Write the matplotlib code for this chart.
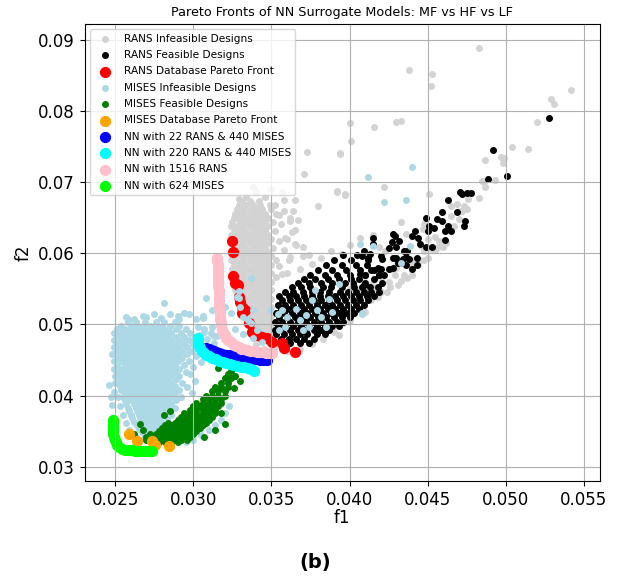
import matplotlib
matplotlib.use("Agg")
import matplotlib.pyplot as plt

# ---- values ----

# RANS infeasible designs: dense vertical blob (f2, [f1 ...]) and scattered points
rans_infeasible_rows = [
    (0.0674, [0.0331, 0.0336, 0.0342]),
    (0.0668, [0.0329, 0.0334, 0.0338, 0.0343, 0.0349]),
    (0.0662, [0.0328, 0.0332, 0.0336, 0.0340, 0.0344, 0.0350]),
    (0.0656, [0.0327, 0.0330, 0.0334, 0.0338, 0.0342, 0.0346, 0.0353]),
    (0.0650, [0.0326, 0.0328, 0.0332, 0.0336, 0.0340, 0.0344, 0.0348]),
    (0.0644, [0.0325, 0.0330, 0.0334, 0.0338, 0.0342, 0.0346, 0.0351]),
    (0.0638, [0.0324, 0.0328, 0.0332, 0.0336, 0.0340, 0.0344, 0.0348]),
    (0.0632, [0.0326, 0.0330, 0.0334, 0.0338, 0.0342, 0.0346, 0.0352]),
    (0.0626, [0.0324, 0.0328, 0.0332, 0.0336, 0.0340, 0.0344, 0.0348]),
    (0.0620, [0.0326, 0.0330, 0.0334, 0.0338, 0.0342, 0.0346, 0.0350]),
    (0.0614, [0.0324, 0.0328, 0.0332, 0.0336, 0.0340, 0.0344, 0.0348]),
    (0.0608, [0.0326, 0.0330, 0.0334, 0.0338, 0.0342, 0.0346, 0.0351]),
    (0.0602, [0.0324, 0.0328, 0.0332, 0.0336, 0.0340, 0.0344, 0.0348]),
    (0.0596, [0.0326, 0.0330, 0.0334, 0.0338, 0.0342, 0.0346, 0.0350]),
    (0.0590, [0.0324, 0.0328, 0.0332, 0.0336, 0.0340, 0.0344, 0.0348, 0.0353]),
    (0.0584, [0.0326, 0.0330, 0.0334, 0.0338, 0.0342, 0.0346, 0.0350]),
    (0.0578, [0.0325, 0.0328, 0.0332, 0.0336, 0.0340, 0.0344, 0.0348]),
    (0.0572, [0.0326, 0.0330, 0.0334, 0.0338, 0.0342, 0.0346, 0.0350]),
    (0.0566, [0.0325, 0.0328, 0.0332, 0.0336, 0.0340, 0.0344, 0.0348]),
    (0.0560, [0.0326, 0.0330, 0.0334, 0.0338, 0.0342, 0.0346, 0.0350]),
    (0.0554, [0.0326, 0.0329, 0.0332, 0.0336, 0.0340, 0.0344, 0.0348]),
    (0.0548, [0.0327, 0.0330, 0.0334, 0.0338, 0.0342, 0.0346, 0.0350]),
    (0.0542, [0.0328, 0.0332, 0.0336, 0.0340, 0.0344, 0.0348]),
    (0.0536, [0.0329, 0.0334, 0.0338, 0.0342, 0.0346, 0.0350]),
    (0.0530, [0.0330, 0.0333, 0.0336, 0.0340, 0.0344, 0.0348]),
    (0.0524, [0.0331, 0.0335, 0.0338, 0.0342, 0.0346, 0.0350]),
    (0.0518, [0.0332, 0.0336, 0.0340, 0.0344, 0.0348]),
    (0.0512, [0.0334, 0.0338, 0.0342, 0.0346, 0.0350]),
    (0.0506, [0.0336, 0.0340, 0.0344, 0.0348]),
    (0.0500, [0.0338, 0.0342, 0.0346, 0.0350]),
    (0.0494, [0.0340, 0.0344, 0.0348, 0.0352]),
    (0.0488, [0.0342, 0.0346, 0.0350]),
    (0.0482, [0.0345, 0.0349, 0.0353]),
    (0.0476, [0.0348, 0.0352]),
]
rans_infeasible_pts = [
    (0.0483, 0.0889), (0.0438, 0.0858), (0.0453, 0.0852), (0.0452, 0.0836), (0.0542, 0.0830),
    (0.0529, 0.0817), (0.0531, 0.0810), (0.0520, 0.0785), (0.0400, 0.0783), (0.0401, 0.0758),
    (0.0394, 0.0740), (0.0416, 0.0778), (0.0430, 0.0785), (0.0433, 0.0786), (0.0504, 0.0750),
    (0.0514, 0.0747), (0.0487, 0.0732), (0.0497, 0.0736), (0.0499, 0.0734), (0.0498, 0.0727),
    (0.0486, 0.0701), (0.0493, 0.0703), (0.0422, 0.0693), (0.0392, 0.0686), (0.0397, 0.0682),
    (0.0451, 0.0683), (0.0483, 0.0678), (0.0485, 0.0702), (0.0487, 0.0693), (0.0476, 0.0677),
    (0.0473, 0.0667), (0.0475, 0.0662), (0.0472, 0.0660), (0.0470, 0.0648), (0.0467, 0.0638),
    (0.0465, 0.0667), (0.0469, 0.0669), (0.0448, 0.0642), (0.0447, 0.0634), (0.0450, 0.0620),
    (0.0455, 0.0623), (0.0457, 0.0618), (0.0460, 0.0609), (0.0456, 0.0608), (0.0452, 0.0606),
    (0.0433, 0.0644), (0.0436, 0.0627), (0.0446, 0.0611), (0.0448, 0.0604), (0.0450, 0.0594),
    (0.0448, 0.0590), (0.0444, 0.0583), (0.0439, 0.0585), (0.0430, 0.0583), (0.0427, 0.0578),
    (0.0429, 0.0569), (0.0420, 0.0566), (0.0416, 0.0562), (0.0414, 0.0556), (0.0417, 0.0552),
    (0.0412, 0.0550), (0.0407, 0.0550), (0.0409, 0.0543), (0.0411, 0.0540), (0.0416, 0.0543),
    (0.0419, 0.0550), (0.0429, 0.0594), (0.0423, 0.0604), (0.0419, 0.0609), (0.0415, 0.0626),
    (0.0471, 0.0660), (0.0465, 0.0653), (0.0458, 0.0610),
    (0.0373, 0.0742), (0.0394, 0.0741), (0.0371, 0.0712), (0.0392, 0.0688), (0.0397, 0.0684),
    (0.0380, 0.0666), (0.0367, 0.0647), (0.0358, 0.0675), (0.0364, 0.0660), (0.0355, 0.0654),
    (0.0362, 0.0645), (0.0365, 0.0633), (0.0359, 0.0621), (0.0374, 0.0598), (0.0370, 0.0609),
    (0.0357, 0.0687), (0.0365, 0.0675), (0.0334, 0.0680), (0.0340, 0.0686), (0.0346, 0.0679),
    (0.0329, 0.0676), (0.0350, 0.0690), (0.0338, 0.0693), (0.0352, 0.0668), (0.0358, 0.0660),
    (0.0362, 0.0650), (0.0356, 0.0641), (0.0363, 0.0630), (0.0360, 0.0620), (0.0366, 0.0612),
    (0.0358, 0.0605), (0.0362, 0.0595), (0.0355, 0.0582), (0.0360, 0.0572), (0.0353, 0.0567),
    (0.0355, 0.0618), (0.0365, 0.0613), (0.0370, 0.0597), (0.0382, 0.0594), (0.0395, 0.0599),
    (0.0361, 0.0590), (0.0376, 0.0585), (0.0357, 0.0571), (0.0368, 0.0578), (0.0388, 0.0604),
    (0.0400, 0.0612), (0.0407, 0.0622),
    (0.0360, 0.0462), (0.0368, 0.0466), (0.0376, 0.0472), (0.0383, 0.0480), (0.0390, 0.0490),
    (0.0396, 0.0502), (0.0402, 0.0514), (0.0408, 0.0524), (0.0414, 0.0534), (0.0420, 0.0545),
    (0.0426, 0.0552), (0.0433, 0.0561), (0.0440, 0.0569), (0.0393, 0.0485), (0.0400, 0.0505),
    (0.0410, 0.0518), (0.0418, 0.0538), (0.0424, 0.0546), (0.0431, 0.0555), (0.0437, 0.0565),
    (0.0370, 0.0520), (0.0380, 0.0530), (0.0390, 0.0540), (0.0400, 0.0550), (0.0410, 0.0560),
    (0.0420, 0.0570), (0.0430, 0.0580), (0.0440, 0.0590), (0.0365, 0.0500), (0.0375, 0.0510),
    (0.0385, 0.0500), (0.0395, 0.0520), (0.0405, 0.0535), (0.0415, 0.0545), (0.0425, 0.0560),
    (0.0435, 0.0570), (0.0445, 0.0590), (0.0455, 0.0605), (0.0462, 0.0615), (0.0345, 0.0465),
    (0.0352, 0.0468), (0.0340, 0.0472),
]

# RANS feasible designs: dense band and scattered points
rans_feasible_rows = [
    (0.0474, [0.0362, 0.0368, 0.0374]),
    (0.0480, [0.0356, 0.0361, 0.0366, 0.0371, 0.0377]),
    (0.0486, [0.0353, 0.0358, 0.0363, 0.0368, 0.0373, 0.0379, 0.0384]),
    (0.0492, [0.0352, 0.0357, 0.0362, 0.0367, 0.0372, 0.0377, 0.0382, 0.0387]),
    (0.0498, [0.0354, 0.0359, 0.0364, 0.0369, 0.0374, 0.0379, 0.0384, 0.0389, 0.0393]),
    (0.0504, [0.0352, 0.0357, 0.0362, 0.0367, 0.0372, 0.0377, 0.0382, 0.0387, 0.0392, 0.0396]),
    (0.0510, [0.0355, 0.0360, 0.0365, 0.0370, 0.0375, 0.0380, 0.0385, 0.0390, 0.0395, 0.0400]),
    (0.0516, [0.0353, 0.0358, 0.0363, 0.0368, 0.0373, 0.0378, 0.0383, 0.0388, 0.0393, 0.0398, 0.0403]),
    (0.0522, [0.0356, 0.0361, 0.0366, 0.0371, 0.0376, 0.0381, 0.0386, 0.0391, 0.0396, 0.0401, 0.0406]),
    (0.0528, [0.0354, 0.0359, 0.0364, 0.0369, 0.0374, 0.0379, 0.0384, 0.0389, 0.0394, 0.0399, 0.0404, 0.0409]),
    (0.0534, [0.0357, 0.0362, 0.0367, 0.0372, 0.0377, 0.0382, 0.0387, 0.0392, 0.0397, 0.0402, 0.0407, 0.0412]),
    (0.0540, [0.0355, 0.0361, 0.0366, 0.0371, 0.0376, 0.0381, 0.0386, 0.0391, 0.0396, 0.0401, 0.0406, 0.0411, 0.0416]),
    (0.0546, [0.0359, 0.0364, 0.0370, 0.0376, 0.0381, 0.0387, 0.0394, 0.0399, 0.0404, 0.0409, 0.0414, 0.0419]),
    (0.0552, [0.0363, 0.0369, 0.0375, 0.0383, 0.0388, 0.0395, 0.0403, 0.0408, 0.0413, 0.0418]),
    (0.0558, [0.0367, 0.0374, 0.0382, 0.0389, 0.0397, 0.0402, 0.0410, 0.0421]),
    (0.0564, [0.0371, 0.0378, 0.0386, 0.0393, 0.0401, 0.0406, 0.0416]),
    (0.0570, [0.0375, 0.0384, 0.0392, 0.0400, 0.0410, 0.0419]),
    (0.0577, [0.0380, 0.0389, 0.0398, 0.0407, 0.0414]),
    (0.0584, [0.0385, 0.0395, 0.0404, 0.0411]),
    (0.0591, [0.0390, 0.0401, 0.0412]),
    (0.0598, [0.0396, 0.0405]),
]
rans_feasible_pts = [
    (0.0492, 0.0746), (0.0501, 0.0709), (0.0489, 0.0705), (0.0528, 0.0790),
    (0.0471, 0.0686), (0.0472, 0.0684), (0.0475, 0.0685), (0.0478, 0.0685),
    (0.0463, 0.0675), (0.0459, 0.0658), (0.0469, 0.0658), (0.0456, 0.0648), (0.0459, 0.0645),
    (0.0449, 0.0650), (0.0451, 0.0639), (0.0454, 0.0636), (0.0463, 0.0639), (0.0465, 0.0631),
    (0.0474, 0.0645), (0.0473, 0.0639), (0.0461, 0.0631), (0.0461, 0.0619), (0.0450, 0.0632),
    (0.0442, 0.0632), (0.0440, 0.0624), (0.0444, 0.0622), (0.0449, 0.0609), (0.0453, 0.0609),
    (0.0445, 0.0613), (0.0428, 0.0627), (0.0427, 0.0616), (0.0430, 0.0609), (0.0432, 0.0618),
    (0.0415, 0.0621), (0.0415, 0.0613), (0.0437, 0.0604), (0.0436, 0.0595), (0.0438, 0.0592),
    (0.0434, 0.0592), (0.0430, 0.0594), (0.0428, 0.0594), (0.0431, 0.0587), (0.0443, 0.0594),
    (0.0443, 0.0583), (0.0440, 0.0578), (0.0436, 0.0583), (0.0420, 0.0597), (0.0421, 0.0592),
    (0.0413, 0.0599), (0.0409, 0.0603), (0.0412, 0.0594), (0.0428, 0.0580), (0.0425, 0.0578),
    (0.0420, 0.0578), (0.0416, 0.0577), (0.0419, 0.0570), (0.0422, 0.0570), (0.0407, 0.0571),
    (0.0410, 0.0569), (0.0409, 0.0556), (0.0433, 0.0587), (0.0429, 0.0625), (0.0425, 0.0608),
    (0.0435, 0.0604), (0.0408, 0.0597), (0.0418, 0.0580),
]

# RANS database Pareto front
rans_pareto_f1 = [0.03245, 0.03253, 0.03255, 0.03270, 0.03287, 0.03291, 0.03302, 0.03313,
                  0.03330, 0.03313, 0.03355, 0.03377, 0.03409, 0.03440, 0.03472, 0.03504,
                  0.03568, 0.03579, 0.03649]
rans_pareto_f2 = [0.06178, 0.06023, 0.05681, 0.05577, 0.05554, 0.05390, 0.05319, 0.05249,
                  0.05202, 0.05155, 0.05014, 0.04897, 0.04850, 0.04826, 0.04803, 0.04756,
                  0.04732, 0.04662, 0.04615]

# MISES infeasible designs: dense blob and scattered points
mises_infeasible_rows = [
    (0.0503, [0.0258, 0.0263, 0.0269, 0.0276, 0.0281, 0.0288]),
    (0.0498, [0.0254, 0.0260, 0.0264, 0.0268, 0.0272, 0.0276, 0.0280, 0.0285, 0.0291]),
    (0.0493, [0.0251, 0.0256, 0.0260, 0.0264, 0.0268, 0.0272, 0.0276, 0.0280, 0.0284, 0.0289, 0.0295]),
    (0.0488, [0.0249, 0.0254, 0.0258, 0.0262, 0.0266, 0.0270, 0.0274, 0.0278, 0.0282, 0.0286, 0.0292, 0.0298]),
    (0.0483, [0.0251, 0.0256, 0.0260, 0.0264, 0.0268, 0.0272, 0.0276, 0.0280, 0.0284, 0.0289, 0.0294, 0.0301]),
    (0.0478, [0.0249, 0.0254, 0.0258, 0.0262, 0.0266, 0.0270, 0.0274, 0.0278, 0.0282, 0.0286, 0.0291, 0.0297]),
    (0.0473, [0.0251, 0.0256, 0.0260, 0.0264, 0.0268, 0.0272, 0.0276, 0.0280, 0.0284, 0.0288, 0.0294, 0.0300]),
    (0.0468, [0.0249, 0.0254, 0.0258, 0.0262, 0.0266, 0.0270, 0.0274, 0.0278, 0.0282, 0.0286, 0.0291, 0.0296]),
    (0.0463, [0.0251, 0.0256, 0.0260, 0.0264, 0.0268, 0.0272, 0.0276, 0.0280, 0.0284, 0.0288, 0.0293, 0.0299]),
    (0.0458, [0.0248, 0.0254, 0.0258, 0.0262, 0.0266, 0.0270, 0.0274, 0.0278, 0.0282, 0.0286, 0.0290, 0.0296]),
    (0.0453, [0.0251, 0.0256, 0.0260, 0.0264, 0.0268, 0.0272, 0.0276, 0.0280, 0.0284, 0.0288, 0.0293]),
    (0.0448, [0.0249, 0.0254, 0.0258, 0.0262, 0.0266, 0.0270, 0.0274, 0.0278, 0.0282, 0.0286, 0.0290, 0.0297]),
    (0.0443, [0.0251, 0.0256, 0.0260, 0.0264, 0.0268, 0.0272, 0.0276, 0.0280, 0.0284, 0.0288, 0.0294]),
    (0.0438, [0.0249, 0.0254, 0.0258, 0.0262, 0.0266, 0.0270, 0.0274, 0.0278, 0.0282, 0.0286, 0.0291]),
    (0.0433, [0.0251, 0.0256, 0.0260, 0.0264, 0.0268, 0.0272, 0.0276, 0.0280, 0.0284, 0.0288, 0.0295]),
    (0.0428, [0.0250, 0.0254, 0.0258, 0.0262, 0.0266, 0.0270, 0.0274, 0.0278, 0.0282, 0.0286, 0.0291]),
    (0.0423, [0.0252, 0.0256, 0.0260, 0.0264, 0.0268, 0.0272, 0.0276, 0.0280, 0.0284, 0.0289]),
    (0.0418, [0.0250, 0.0254, 0.0258, 0.0262, 0.0266, 0.0270, 0.0274, 0.0278, 0.0282, 0.0286, 0.0293]),
    (0.0413, [0.0253, 0.0256, 0.0260, 0.0264, 0.0268, 0.0272, 0.0276, 0.0280, 0.0284, 0.0288]),
    (0.0408, [0.0254, 0.0258, 0.0262, 0.0266, 0.0270, 0.0274, 0.0278, 0.0282, 0.0286, 0.0291]),
    (0.0403, [0.0256, 0.0260, 0.0264, 0.0268, 0.0272, 0.0276, 0.0280, 0.0284, 0.0288]),
    (0.0398, [0.0255, 0.0258, 0.0262, 0.0266, 0.0270, 0.0274, 0.0278, 0.0282, 0.0286, 0.0292]),
    (0.0393, [0.0256, 0.0260, 0.0264, 0.0268, 0.0272, 0.0276, 0.0280, 0.0284, 0.0289]),
    (0.0388, [0.0257, 0.0262, 0.0266, 0.0270, 0.0274, 0.0278, 0.0282, 0.0286]),
    (0.0383, [0.0258, 0.0263, 0.0267, 0.0271, 0.0275, 0.0279, 0.0283, 0.0288]),
    (0.0378, [0.0259, 0.0264, 0.0268, 0.0272, 0.0276, 0.0280, 0.0285]),
    (0.0373, [0.0260, 0.0265, 0.0269, 0.0273, 0.0277, 0.0281, 0.0286]),
    (0.0368, [0.0261, 0.0266, 0.0270, 0.0274, 0.0278, 0.0283]),
    (0.0363, [0.0262, 0.0267, 0.0271, 0.0275, 0.0279]),
    (0.0358, [0.0264, 0.0268, 0.0272, 0.0276, 0.0281]),
    (0.0353, [0.0265, 0.0270, 0.0274, 0.0278]),
    (0.0348, [0.0267, 0.0272, 0.0277]),
    (0.0343, [0.0269, 0.0275]),
]
mises_infeasible_pts = [
    (0.0281, 0.0530), (0.0258, 0.0507), (0.0270, 0.0510), (0.0275, 0.0514), (0.0290, 0.0512),
    (0.0294, 0.0516), (0.0297, 0.0514), (0.0302, 0.0507), (0.0306, 0.0509), (0.0262, 0.0508),
    (0.0268, 0.0512), (0.0279, 0.0509), (0.0285, 0.0515), (0.0291, 0.0508), (0.0257, 0.0510),
    (0.0303, 0.0497), (0.0307, 0.0493), (0.0311, 0.0488), (0.0315, 0.0484), (0.0304, 0.0485),
    (0.0309, 0.0479), (0.0313, 0.0474), (0.0302, 0.0476), (0.0306, 0.0469), (0.0310, 0.0463),
    (0.0302, 0.0455), (0.0305, 0.0447), (0.0300, 0.0440), (0.0298, 0.0430), (0.0301, 0.0420),
    (0.0296, 0.0412), (0.0299, 0.0404), (0.0246, 0.0415), (0.0248, 0.0386), (0.0247, 0.0398),
    (0.0249, 0.0405), (0.0252, 0.0398), (0.0253, 0.0385), (0.0255, 0.0372), (0.0257, 0.0362),
    (0.0259, 0.0352), (0.0263, 0.0342), (0.0266, 0.0338), (0.0280, 0.0337), (0.0286, 0.0334),
    (0.0305, 0.0345), (0.0310, 0.0352), (0.0314, 0.0358), (0.0318, 0.0366), (0.0320, 0.0375),
    (0.0323, 0.0385), (0.0300, 0.0338), (0.0295, 0.0335),
    (0.0308, 0.0537), (0.0320, 0.0525), (0.0324, 0.0516), (0.0329, 0.0537), (0.0332, 0.0511),
    (0.0337, 0.0502), (0.0341, 0.0492), (0.0335, 0.0506), (0.0316, 0.0506), (0.0312, 0.0497),
    (0.0307, 0.0490), (0.0313, 0.0484), (0.0320, 0.0488), (0.0327, 0.0494), (0.0338, 0.0481),
    (0.0344, 0.0476), (0.0306, 0.0512), (0.0312, 0.0520), (0.0317, 0.0498), (0.0332, 0.0487),
    (0.0329, 0.0547), (0.0337, 0.0565), (0.0338, 0.0520), (0.0328, 0.0539), (0.0330, 0.0524),
    (0.0354, 0.0515), (0.0357, 0.0520), (0.0360, 0.0510), (0.0366, 0.0522), (0.0368, 0.0506),
    (0.0372, 0.0513), (0.0376, 0.0534), (0.0379, 0.0520), (0.0382, 0.0510), (0.0387, 0.0536),
    (0.0389, 0.0517), (0.0374, 0.0496), (0.0359, 0.0496), (0.0355, 0.0492), (0.0385, 0.0496),
    (0.0370, 0.0492), (0.0408, 0.0515), (0.0407, 0.0613), (0.0415, 0.0611), (0.0378, 0.0548),
    (0.0393, 0.0557), (0.0349, 0.0520), (0.0412, 0.0708), (0.0440, 0.0722), (0.0422, 0.0672),
    (0.0436, 0.0675), (0.0439, 0.0611), (0.0433, 0.0587), (0.0408, 0.0516),
]

# MISES feasible designs
mises_feasible_rows = [
    (0.0334, [0.0274, 0.0278, 0.0282, 0.0286, 0.0290]),
    (0.0338, [0.0270, 0.0272, 0.0276, 0.0280, 0.0284, 0.0288, 0.0292, 0.0296]),
    (0.0342, [0.0270, 0.0274, 0.0278, 0.0282, 0.0286, 0.0290, 0.0294, 0.0298]),
    (0.0346, [0.0272, 0.0276, 0.0280, 0.0284, 0.0288, 0.0292, 0.0296, 0.0300]),
    (0.0350, [0.0278, 0.0282, 0.0286, 0.0290, 0.0294, 0.0298, 0.0302]),
    (0.0354, [0.0280, 0.0284, 0.0288, 0.0292, 0.0296, 0.0300, 0.0304]),
    (0.0358, [0.0282, 0.0286, 0.0290, 0.0294, 0.0298, 0.0302, 0.0306]),
    (0.0362, [0.0284, 0.0288, 0.0292, 0.0296, 0.0300, 0.0304, 0.0308]),
    (0.0366, [0.0290, 0.0294, 0.0298, 0.0302, 0.0306, 0.0310]),
    (0.0370, [0.0292, 0.0296, 0.0300, 0.0304, 0.0308, 0.0312]),
    (0.0375, [0.0294, 0.0298, 0.0302, 0.0306, 0.0310, 0.0314]),
    (0.0380, [0.0298, 0.0302, 0.0306, 0.0310, 0.0314]),
    (0.0385, [0.0300, 0.0304, 0.0308, 0.0312, 0.0316]),
    (0.0390, [0.0302, 0.0306, 0.0310, 0.0314, 0.0318]),
    (0.0395, [0.0306, 0.0310, 0.0314, 0.0318]),
    (0.0400, [0.0308, 0.0312, 0.0316, 0.0320]),
    (0.0406, [0.0312, 0.0316, 0.0320]),
    (0.0412, [0.0314, 0.0318, 0.0322]),
    (0.0418, [0.0318, 0.0322]),
    (0.0424, [0.0320, 0.0324]),
    (0.0430, [0.0322]),
]
mises_feasible_pts = [
    (0.0268, 0.0352), (0.0266, 0.0360), (0.0281, 0.0372), (0.0285, 0.0378), (0.0316, 0.0439),
    (0.0330, 0.0421), (0.0327, 0.0428), (0.0324, 0.0435), (0.0320, 0.0360), (0.0314, 0.0352),
    (0.0307, 0.0342), (0.0262, 0.0346), (0.0319, 0.0445), (0.0326, 0.0410), (0.0318, 0.0376),
]

# MISES database Pareto front
mises_pareto_f1 = [0.02589, 0.02637, 0.02736, 0.02757, 0.02842]
mises_pareto_f2 = [0.03465, 0.03363, 0.03363, 0.03302, 0.03288]

# NN predicted fronts
nn_22_440_f1 = [0.03078, 0.03088, 0.03100, 0.03114, 0.03130, 0.03148, 0.03166, 0.03186, 0.03206,
                0.03226, 0.03248, 0.03270, 0.03292, 0.03314, 0.03336, 0.03358, 0.03380, 0.03402,
                0.03424, 0.03446, 0.03470]
nn_22_440_f2 = [0.04672, 0.04660, 0.04648, 0.04635, 0.04622, 0.04610, 0.04598, 0.04586, 0.04575,
                0.04564, 0.04554, 0.04545, 0.04537, 0.04530, 0.04524, 0.04518, 0.04513, 0.04509,
                0.04505, 0.04502, 0.04500]

nn_220_440_f1 = [0.03030, 0.03031, 0.03033, 0.03037, 0.03044, 0.03054, 0.03068, 0.03084, 0.03102,
                 0.03122, 0.03143, 0.03165, 0.03188, 0.03211, 0.03234, 0.03257, 0.03280, 0.03303,
                 0.03326, 0.03349, 0.03370, 0.03390]
nn_220_440_f2 = [0.04810, 0.04772, 0.04734, 0.04697, 0.04662, 0.04630, 0.04600, 0.04573, 0.04549,
                 0.04527, 0.04507, 0.04489, 0.04473, 0.04458, 0.04444, 0.04431, 0.04419, 0.04407,
                 0.04395, 0.04382, 0.04368, 0.04352]

nn_1516_rans_f1 = [0.03153, 0.03154, 0.03155, 0.03156, 0.03157, 0.03158, 0.03159, 0.03160, 0.03161,
                   0.03162, 0.03163, 0.03164, 0.03165, 0.03166, 0.03167, 0.03168, 0.03170, 0.03172,
                   0.03174, 0.03178, 0.03184, 0.03191, 0.03200, 0.03212, 0.03225, 0.03240, 0.03256,
                   0.03273, 0.03290, 0.03308, 0.03327, 0.03346, 0.03366, 0.03386, 0.03406, 0.03426,
                   0.03446, 0.03466, 0.03486, 0.03506]
nn_1516_rans_f2 = [0.0594, 0.0589, 0.0584, 0.0579, 0.0574, 0.0569, 0.0564, 0.0559, 0.0554,
                   0.0549, 0.0544, 0.0539, 0.0534, 0.0529, 0.0524, 0.0519, 0.0514, 0.0509,
                   0.0504, 0.0499, 0.0494, 0.0489, 0.0485, 0.0481, 0.0478, 0.0475, 0.0472,
                   0.0470, 0.0468, 0.0466, 0.0465, 0.0464, 0.0463, 0.0462, 0.0461, 0.0461,
                   0.0461, 0.0460, 0.0460, 0.0460]

nn_624_mises_f1 = [0.02485, 0.02484, 0.02484, 0.02485, 0.02486, 0.02488, 0.02491, 0.02496, 0.02503,
                   0.02513, 0.02527, 0.02545, 0.02565, 0.02585, 0.02605, 0.02625, 0.02645, 0.02665,
                   0.02685, 0.02705, 0.02725, 0.02738]
nn_624_mises_f2 = [0.03660, 0.03620, 0.03580, 0.03540, 0.03500, 0.03460, 0.03420, 0.03380, 0.03340,
                   0.03305, 0.03275, 0.03253, 0.03240, 0.03232, 0.03227, 0.03225, 0.03224, 0.03223,
                   0.03223, 0.03223, 0.03223, 0.03223]

x_ticks = [0.025, 0.030, 0.035, 0.040, 0.045, 0.050, 0.055]
y_ticks = [0.03, 0.04, 0.05, 0.06, 0.07, 0.08, 0.09]


def cloud(rows, pts):
    # flatten the (f2, [f1...]) rows plus the loose (f1, f2) points
    f1 = [x for y, xs in rows for x in xs] + [p[0] for p in pts]
    f2 = [y for y, xs in rows for x in xs] + [p[1] for p in pts]
    return f1, f2


rans_inf_f1, rans_inf_f2 = cloud(rans_infeasible_rows, rans_infeasible_pts)
rans_fea_f1, rans_fea_f2 = cloud(rans_feasible_rows, rans_feasible_pts)
mises_inf_f1, mises_inf_f2 = cloud(mises_infeasible_rows, mises_infeasible_pts)
mises_fea_f1, mises_fea_f2 = cloud(mises_feasible_rows, mises_feasible_pts)

fig = plt.figure(figsize=(6.2, 5.82), dpi=100)
ax = fig.add_axes([0.1365, 0.1735, 0.8305, 0.785])

small = 16
big = 50
ax.scatter(rans_inf_f1, rans_inf_f2, s=small, c="lightgray", label="RANS Infeasible Designs")
ax.scatter(rans_fea_f1, rans_fea_f2, s=small, c="black", label="RANS Feasible Designs")
ax.scatter(rans_pareto_f1, rans_pareto_f2, s=big, c="red", label="RANS Database Pareto Front")
ax.scatter(mises_inf_f1, mises_inf_f2, s=small, c="lightblue", label="MISES Infeasible Designs")
ax.scatter(mises_fea_f1, mises_fea_f2, s=small, c="green", label="MISES Feasible Designs")
ax.scatter(mises_pareto_f1, mises_pareto_f2, s=big, c="orange", label="MISES Database Pareto Front")
ax.scatter(nn_22_440_f1, nn_22_440_f2, s=big, c="blue", label="NN with 22 RANS & 440 MISES")
ax.scatter(nn_220_440_f1, nn_220_440_f2, s=big, c="cyan", label="NN with 220 RANS & 440 MISES")
ax.scatter(nn_1516_rans_f1, nn_1516_rans_f2, s=big, c="pink", label="NN with 1516 RANS")
ax.scatter(nn_624_mises_f1, nn_624_mises_f2, s=big, c="lime", label="NN with 624 MISES")

ax.set_xlim(0.02304, 0.05601)
ax.set_ylim(0.02797, 0.09225)
ax.set_xticks(x_ticks)
ax.set_yticks(y_ticks)
ax.tick_params(labelsize=12)
ax.set_xlabel("f1", fontsize=12, labelpad=0.5)
ax.set_ylabel("f2", fontsize=12)
ax.set_title("Pareto Fronts of NN Surrogate Models: MF vs HF vs LF", fontsize=9.2)
ax.grid(True)
ax.legend(loc="upper left", fontsize=7.6, labelspacing=0.6)

fig.text(0.508, 0.033, "(b)", ha="center", va="center", fontsize=14, fontweight="bold")

fig.savefig("out.png", dpi=100)
plt.close(fig)
